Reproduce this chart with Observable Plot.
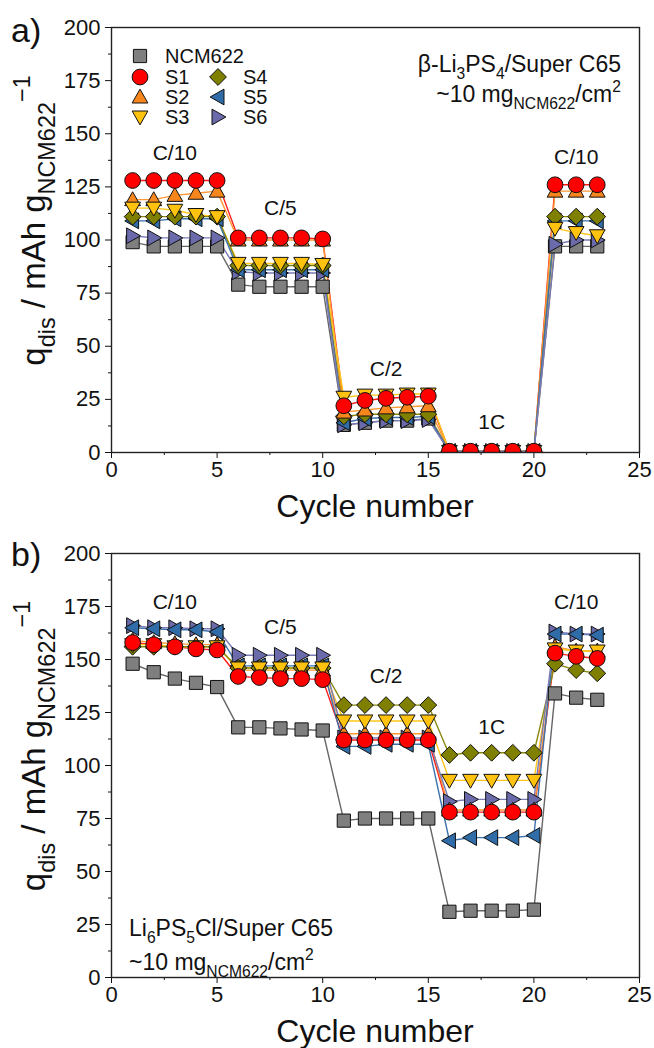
<!DOCTYPE html>
<html><head><meta charset="utf-8">
<script src="https://cdn.jsdelivr.net/npm/d3@7"></script>
<script src="https://cdn.jsdelivr.net/npm/@observablehq/plot@0.6"></script>
<style>
body{margin:0;background:#fff;font-family:"Liberation Sans",Arial,sans-serif}
#c svg{display:block}
</style>
</head><body><div id="c"></div>
<script>
// ---------- data ----------
const cycles = d3.range(1, 24);
const seriesNames = ["NCM622", "S1", "S2", "S3", "S4", "S5", "S6"];

// panel a: beta-Li3PS4 / Super C65
const a_NCM622 = [99,97,97,97,97, 79,78,78,78,78, 13,14,15,15,16, 0.3,0.3,0.3,0.3,0.3, 97,97,97];
const a_S1 = [128,128,128,128,128, 101,101,101,101,100.5, 22,24.5,25.5,26,26.5, 0.6,0.6,0.6,0.6,0.6, 126,126,126];
const a_S2 = [119,119,121,122,123, 100,100,100,100,100, 19,20,21,21.5,22, 0.5,0.5,0.5,0.5,0.5, 123,123,123];
const a_S3 = [115,115,114,112,111, 89,89,89,89,88.5, 26,27,27,27.5,27.5, 0.5,0.5,0.5,0.5,0.5, 105.5,103.5,102];
const a_S4 = [111,111,111,111,111, 88,88,88,88,88, 17,18,18,18,18, 0.5,0.5,0.5,0.5,0.5, 111,111,111];
const a_S5 = [109,109,110,110,110, 86,86,86,86,86, 14,16,16.5,16.5,17, 0.5,0.5,0.5,0.5,0.5, 109,109,109];
const a_S6 = [102,101,101,101,101, 85,84.5,84.5,84.5,84.5, 13,14,15,15,15.5, 0.5,0.5,0.5,0.5,0.5, 98,100,100];

// panel b: Li6PS5Cl / Super C65
const b_NCM622 = [148,144,141,139,137, 118,118,117.5,117,116.5, 74,75,75,75,75, 31,31.5,31.5,31.5,32, 134,132,131];
const b_S1 = [158,157,156,155,154.5, 142,141.5,141,141,140.5, 112,112,112,112,112, 78,78,78,78,78, 153,151.5,150.5];
const b_S2 = [159,158,157.5,157,157, 145,145,145,145,145, 115,115,115,115,115, 79,79,79,79,79, 156,154,154];
const b_S3 = [157,157,156,156,156, 146,146,146,146,146, 121,121,121,121,121, 93,93,93,93,93, 155,154,154];
const b_S4 = [156,156,156,156,156, 146,146,146,146,146, 128.5,128.5,128.5,128.5,128.5, 105,106,106,106,106, 148,145,143.5];
const b_S5 = [165,164.5,164,164,163, 147,147,147,147,147, 109,109,110,110,110, 64.5,66,66,66,67, 162,162,161.5];
const b_S6 = [166,165,165,164.5,164.5, 152,152,152,152,152, 113,113,113,113,113, 83,84,84,84,84, 163,162,162];

// C-rate labels (cycle, capacity)
const rateText = ["C/10", "C/5", "C/2", "1C", "C/10"];
const a_rateX = [3, 8, 13, 18, 22];
const a_rateY = [141, 115, 39, 14, 139];
const b_rateX = [3, 8, 13, 18, 22];
const b_rateY = [177, 165, 142, 118, 177];

const xTicks = [0, 5, 10, 15, 20, 25];
const yTicks = [0, 25, 50, 75, 100, 125, 150, 175, 200];

// ---------- styles ----------
const fillColors = {NCM622:"#7f7f7f", S1:"#ff0000", S2:"#f7861c", S3:"#ffc20e", S4:"#7f7f00", S5:"#2f6ca8", S6:"#6b6bab"};
const lineColors = {NCM622:"#666666", S1:"#ff1a1a", S2:"#ff9933", S3:"#ffc61a", S4:"#8a8a10", S5:"#3d72ad", S6:"#7a7ab8"};
const shapeOf = {NCM622:"square", S1:"circle", S2:"triUp", S3:"triDown", S4:"diamond", S5:"triLeft", S6:"triRight"};
const drawOrder = ["NCM622", "S6", "S5", "S4", "S2", "S3", "S1"];
const FONT = '"Liberation Sans", Arial, sans-serif';

const shapes = {
  square(c, r){ const h = r*0.88; c.moveTo(-h,-h); c.lineTo(h,-h); c.lineTo(h,h); c.lineTo(-h,h); c.closePath(); },
  circle(c, r){ const R = r*1.05; c.moveTo(R,0); c.arc(0,0,R,0,2*Math.PI); c.closePath(); },
  triUp(c, r){ c.moveTo(0,-r*1.05); c.lineTo(r*1.05,r*0.8); c.lineTo(-r*1.05,r*0.8); c.closePath(); },
  triDown(c, r){ c.moveTo(0,r*1.05); c.lineTo(r*1.05,-r*0.8); c.lineTo(-r*1.05,-r*0.8); c.closePath(); },
  triLeft(c, r){ c.moveTo(-r*1.05,0); c.lineTo(r*0.8,-r*1.05); c.lineTo(r*0.8,r*1.05); c.closePath(); },
  triRight(c, r){ c.moveTo(r*1.05,0); c.lineTo(-r*0.8,-r*1.05); c.lineTo(-r*0.8,r*1.05); c.closePath(); },
  diamond(c, r){ const d = r*1.12; c.moveTo(0,-d); c.lineTo(d,0); c.lineTo(0,d); c.lineTo(-d,0); c.closePath(); }
};
const symbolOf = name => ({draw(c, size){ shapes[name](c, Math.sqrt(size/Math.PI)); }});
const R = 7.5;

// rich text helper: parts = [[text, kind]] kind: "", "sub", "sup"
function rich(textSel, parts, fs, ratio = 0.68) {
  let shift = 0;
  for (const [t, kind] of parts) {
    const target = kind === "sub" ? 0.3*fs : kind === "sup" ? -0.45*fs : 0;
    textSel.append("tspan").text(t)
      .attr("dy", target - shift)
      .attr("font-size", kind ? fs*ratio : fs);
    shift = target;
  }
}

function textMark(fn) {
  return (index, scales, values, dims) => {
    const g = d3.create("svg:g").attr("font-family", FONT).attr("fill", "#111").attr("text-anchor", "start");
    fn(g, dims);
    return g.node();
  };
}

function legendMark() {
  const items = [
    ["NCM622", 140, 56], ["S1", 140, 77], ["S2", 140, 97], ["S3", 140, 117],
    ["S4", 218, 77], ["S5", 218, 97], ["S6", 218, 117]
  ];
  return (index, scales, values, dims) => {
    const g = d3.create("svg:g").attr("font-family", FONT).attr("text-anchor", "start");
    for (const [name, x, y] of items) {
      const p = d3.path(); shapes[shapeOf[name]](p, R);
      g.append("path").attr("d", p.toString()).attr("transform", `translate(${x},${y})`)
        .attr("fill", fillColors[name]).attr("stroke", "#111").attr("stroke-width", 1);
      g.append("text").attr("x", x + 25).attr("y", y + 7).attr("font-size", 20).attr("fill", "#111").text(name);
    }
    return g.node();
  };
}

function buildRows(prefix) {
  const src = prefix === "a"
    ? {NCM622:a_NCM622, S1:a_S1, S2:a_S2, S3:a_S3, S4:a_S4, S5:a_S5, S6:a_S6}
    : {NCM622:b_NCM622, S1:b_S1, S2:b_S2, S3:b_S3, S4:b_S4, S5:b_S5, S6:b_S6};
  const rows = [];
  for (const s of seriesNames) src[s].forEach((q, i) => rows.push({series: s, cycle: cycles[i], q}));
  return rows;
}

function panel(prefix, marginTop, marginBottom, extras) {
  const rows = buildRows(prefix);
  const rx = prefix === "a" ? a_rateX : b_rateX;
  const ry = prefix === "a" ? a_rateY : b_rateY;
  const rateRows = rateText.map((t, i) => ({t, x: rx[i], y: ry[i]}));
  const marks = [
    Plot.axisX(d3.range(2.5, 25, 5), {tickSize: 3, tickFormat: () => "", label: null, stroke: "#111"}),
    Plot.axisY(d3.range(12.5, 200, 25), {tickSize: 3, tickFormat: () => "", label: null, stroke: "#111"}),
    Plot.axisX(xTicks, {tickSize: 6, tickPadding: 3, fontSize: 22, label: null, stroke: "#111"}),
    Plot.axisY(yTicks, {tickSize: 6, tickPadding: 5, fontSize: 22, label: null, stroke: "#111"})
  ];
  for (const s of seriesNames) {
    marks.push(Plot.line(rows.filter(d => d.series === s), {x: "cycle", y: "q", stroke: lineColors[s], strokeWidth: 1.4, clip: true}));
  }
  for (const s of drawOrder) {
    marks.push(Plot.dot(rows.filter(d => d.series === s), {
      x: "cycle", y: "q", r: R, symbol: symbolOf(shapeOf[s]),
      fill: fillColors[s], stroke: "#111", strokeWidth: 1, clip: true
    }));
  }
  marks.push(Plot.frame({stroke: "#222", strokeWidth: 1.4}));
  marks.push(Plot.text(rateRows, {x: "x", y: "y", text: "t", fontSize: 21, fill: "#111"}));
  // axis titles
  marks.push(textMark((g, dims) => {
    const cx = (dims.marginLeft + dims.width - dims.marginRight) / 2;
    const by = dims.height - dims.marginBottom + 65;
    g.append("text").attr("x", cx).attr("y", by).attr("text-anchor", "middle").attr("font-size", 32).text("Cycle number");
    const cy = (dims.marginTop + dims.height - dims.marginBottom) / 2 - 19;
    const t = g.append("text").attr("transform", `translate(45,${cy}) rotate(-90)`).attr("text-anchor", "middle");
    rich(t, [["q",""],["dis","sub"],[" / mAh g",""],["NCM622","sub"],["−1","sup"]], 33, 0.71);
  }));
  marks.push(...extras);
  return Plot.plot({
    width: 654, height: 524,
    marginLeft: 111, marginRight: 15, marginTop, marginBottom,
    x: {domain: [0, 25]},
    y: {domain: [0, 200]},
    style: {fontFamily: FONT, color: "#111", background: "white", overflow: "visible"},
    marks
  });
}

const panelA = panel("a", 27, 72, [
  legendMark(),
  textMark((g) => {
    g.append("text").attr("x", 11).attr("y", 42).attr("font-size", 34).text("a)");
    const t1 = g.append("text").attr("x", 621).attr("y", 72).attr("text-anchor", "end");
    rich(t1, [["β-Li",""],["3","sub"],["PS",""],["4","sub"],["/Super C65",""]], 23);
    const t2 = g.append("text").attr("x", 621).attr("y", 102).attr("text-anchor", "end");
    rich(t2, [["~10 mg",""],["NCM622","sub"],["/cm",""],["2","sup"]], 23);
  })
]);
const panelB = panel("b", 29, 71, [
  textMark((g) => {
    g.append("text").attr("x", 11).attr("y", 42).attr("font-size", 34).text("b)");
    const t1 = g.append("text").attr("x", 129).attr("y", 412);
    rich(t1, [["Li",""],["6","sub"],["PS",""],["5","sub"],["Cl/Super C65",""]], 23);
    const t2 = g.append("text").attr("x", 129).attr("y", 446);
    rich(t2, [["~10 mg",""],["NCM622","sub"],["/cm",""],["2","sup"]], 23);
  })
]);
document.getElementById("c").append(panelA, panelB);
</script>
</body></html>
